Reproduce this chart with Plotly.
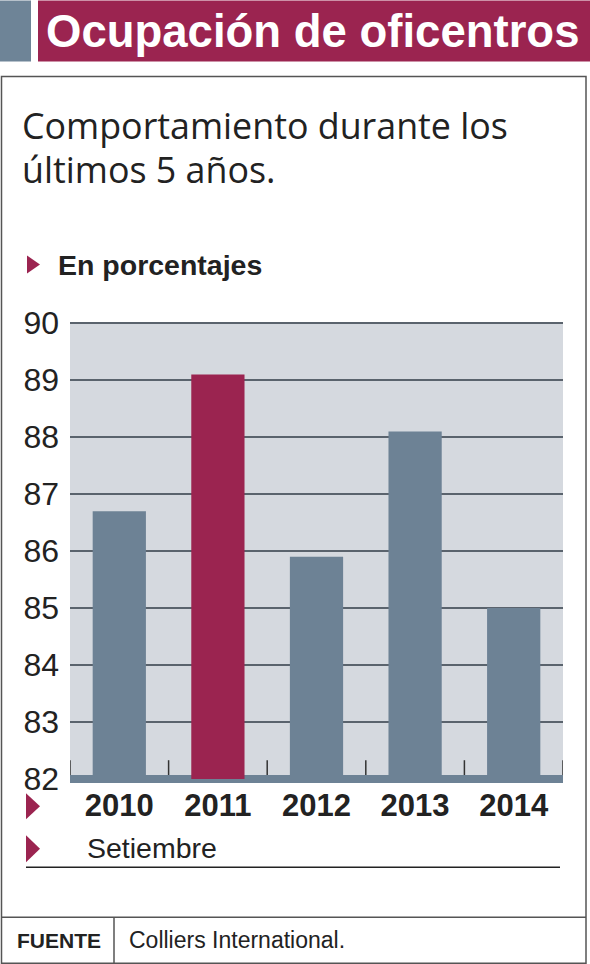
import plotly.graph_objects as go

# ---- data ----
years = ["2010", "2011", "2012", "2013", "2014"]
ocupacion = [86.7, 89.1, 85.9, 88.1, 85.0]
bar_colors = ["#6d8295", "#9b2450", "#6d8295", "#6d8295", "#6d8295"]
y_ticks = [82, 83, 84, 85, 86, 87, 88, 89, 90]
y_range = [81.93, 90.02]
bar_base = y_ticks[0]

# ---- canvas geometry (pixels) ----
WIDTH, HEIGHT = 590, 964
L, R, T, B = 70, 563, 321.6, 782.7
PW, PH = R - L, B - T

def px(x):
    return (x - L) / PW

def py(y):
    return (B - y) / PH

RED = "#9b2450"
SLATE = "#6d8295"
SANS = "Liberation Sans, Arial, sans-serif"

fig = go.Figure()
fig.add_trace(go.Bar(
    x=years, y=[v - bar_base for v in ocupacion], base=bar_base,
    customdata=ocupacion,
    marker=dict(color=bar_colors, line=dict(width=0)),
    hovertemplate="%{x}: %{customdata}%<extra></extra>",
))
# invisible trace to carry the labelled y-axis
fig.add_trace(go.Scatter(x=years, y=ocupacion, yaxis="y2", mode="markers",
                         marker=dict(opacity=0), hoverinfo="skip", showlegend=False))

shapes = []
annotations = []

# banner
shapes.append(dict(type="rect", xref="paper", yref="paper", x0=px(0), x1=px(31), y0=py(0), y1=py(61),
                   fillcolor="#6e8497", line=dict(width=0), layer="above"))
shapes.append(dict(type="rect", xref="paper", yref="paper", x0=px(38), x1=px(590), y0=py(0), y1=py(61),
                   fillcolor=RED, line=dict(width=0), layer="above"))
annotations.append(dict(text="<b>Ocupación de oficentros</b>", xref="paper", yref="paper",
                        x=px(44), y=py(31), xanchor="left", yanchor="middle", showarrow=False,
                        font=dict(family=SANS, size=45.5, color="white")))

# outer box
shapes.append(dict(type="rect", xref="paper", yref="paper", x0=px(1.5), x1=px(586), y0=py(76), y1=py(963),
                   fillcolor="rgba(0,0,0,0)", line=dict(width=1.5, color="#555555"), layer="above"))
shapes.append(dict(type="line", xref="paper", yref="paper", x0=px(1.5), x1=px(586), y0=py(917), y1=py(917),
                   line=dict(width=1.5, color="#555555"), layer="above"))
shapes.append(dict(type="line", xref="paper", yref="paper", x0=px(114), x1=px(114), y0=py(917), y1=py(963),
                   line=dict(width=1.5, color="#555555"), layer="above"))
# underline below Setiembre
shapes.append(dict(type="line", xref="paper", yref="paper", x0=px(26), x1=px(560), y0=py(867), y1=py(867),
                   line=dict(width=1.5, color="#222222"), layer="above"))

# subtitle
annotations.append(dict(text="Comportamiento durante los", xref="paper", yref="paper",
                        x=px(20), y=py(125), xanchor="left", yanchor="middle", showarrow=False,
                        font=dict(family="Open Sans, sans-serif", size=35.8, color="#222222")))
annotations.append(dict(text="últimos 5 años.", xref="paper", yref="paper",
                        x=px(20), y=py(169), xanchor="left", yanchor="middle", showarrow=False,
                        font=dict(family="Open Sans, sans-serif", size=35.8, color="#222222")))

# triangles
def tri(x0, x1, y0, y1):
    return dict(type="path", xref="paper", yref="paper",
                path=f"M {px(x0)},{py(y0)} L {px(x1)},{py((y0+y1)/2)} L {px(x0)},{py(y1)} Z",
                fillcolor=RED, line=dict(width=0), layer="above")

shapes.append(tri(27, 40, 255, 273))
shapes.append(tri(26, 40, 793, 819))
shapes.append(tri(26, 40, 835, 862))

annotations.append(dict(text="<b>En porcentajes</b>", xref="paper", yref="paper",
                        x=px(56), y=py(265), xanchor="left", yanchor="middle", showarrow=False,
                        font=dict(family=SANS, size=28.5, color="#222222")))
annotations.append(dict(text="Setiembre", xref="paper", yref="paper",
                        x=px(85), y=py(848), xanchor="left", yanchor="middle", showarrow=False,
                        font=dict(family=SANS, size=28.5, color="#222222")))
annotations.append(dict(text="<b>FUENTE</b>", xref="paper", yref="paper",
                        x=px(15), y=py(940), xanchor="left", yanchor="middle", showarrow=False,
                        font=dict(family=SANS, size=21, color="#222222")))
annotations.append(dict(text="Colliers International.", xref="paper", yref="paper",
                        x=px(127), y=py(940), xanchor="left", yanchor="middle", showarrow=False,
                        font=dict(family=SANS, size=23, color="#222222")))

# baseline band and category ticks
shapes.append(dict(type="rect", xref="paper", yref="y", x0=0, x1=1, y0=81.93, y1=82.07,
                   fillcolor=SLATE, line=dict(width=0), layer="between"))
for i in range(len(years) + 1):
    shapes.append(dict(type="line", xref="x", yref="y", x0=i - 0.5, x1=i - 0.5, y0=82.07, y1=82.33,
                       line=dict(width=1.5, color="#333333"), layer="above"))

fig.update_layout(
    width=WIDTH, height=HEIGHT,
    margin=dict(l=L, r=WIDTH - R, t=T, b=HEIGHT - B, pad=0),
    paper_bgcolor="white",
    plot_bgcolor="#d5d9df",
    bargap=0.46,
    showlegend=False,
    shapes=shapes,
    annotations=annotations,
    xaxis=dict(range=[-0.5, 4.5], showgrid=False, zeroline=False, showline=False, ticks="",
               tickfont=dict(family=SANS, size=31, color="#222222"),
               tickprefix="<b>", ticksuffix="</b>", ticklabelstandoff=1, fixedrange=True),
    yaxis=dict(range=y_range, tickvals=y_ticks[1:], showticklabels=False, showgrid=True,
               gridcolor="#5a636d", gridwidth=2, zeroline=False, showline=False, ticks="",
               fixedrange=True),
    yaxis2=dict(range=y_range, tickvals=y_ticks, overlaying="y", side="left", showgrid=False,
                zeroline=False, showline=False, ticks="",
                tickfont=dict(family=SANS, size=32, color="#222222"), ticklabelstandoff=10,
                fixedrange=True),
)

fig.write_html("out.html", config={"displayModeBar": False},
               post_script="document.body.style.margin='0px';")
